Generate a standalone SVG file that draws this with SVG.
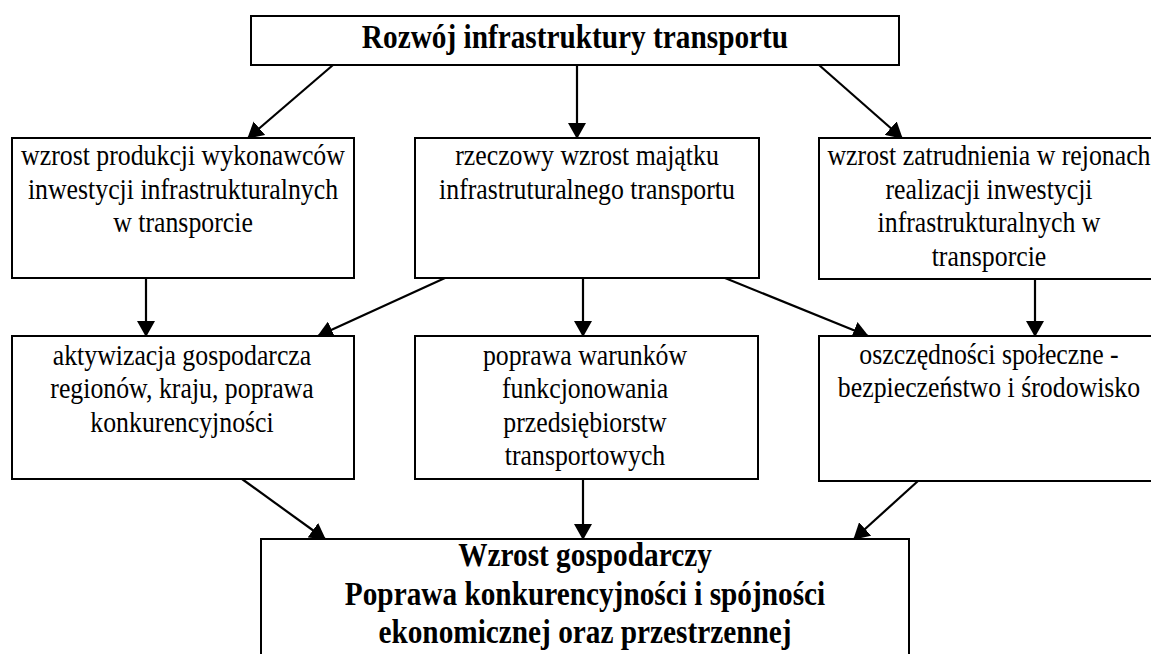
<svg xmlns="http://www.w3.org/2000/svg" width="1151" height="654" viewBox="0 0 1151 654">
<defs>
<style>
.box{fill:#fff;stroke:#000;stroke-width:2}
.t{font-family:"Liberation Serif","Times New Roman",serif;font-size:25.8px;fill:#000;text-anchor:middle}
.b{font-family:"Liberation Serif","Times New Roman",serif;font-size:29.3px;font-weight:bold;fill:#000;text-anchor:middle}
.c{stroke:#000;stroke-width:2.2;fill:none;marker-end:url(#ah)}
</style>
<marker id="ah" viewBox="0 0 16 18" refX="15" refY="9" markerWidth="16" markerHeight="18" markerUnits="userSpaceOnUse" orient="auto">
<path d="M0,0 L16,9 L0,18 z" fill="#000"/>
</marker>
</defs>
<rect width="1151" height="654" fill="#fff"/>
<g id="connectors">
<line class="c" x1="333" y1="65" x2="248" y2="138"/>
<line class="c" x1="577" y1="65" x2="577" y2="138"/>
<line class="c" x1="819" y1="65" x2="902" y2="138"/>
<line class="c" x1="146" y1="278" x2="146" y2="336"/>
<line class="c" x1="445" y1="278" x2="318" y2="336"/>
<line class="c" x1="583" y1="278" x2="583" y2="336"/>
<line class="c" x1="725" y1="278" x2="868" y2="336"/>
<line class="c" x1="1035" y1="279" x2="1035" y2="336"/>
<line class="c" x1="242" y1="479" x2="325" y2="539"/>
<line class="c" x1="583" y1="479" x2="583" y2="539"/>
<line class="c" x1="918" y1="481" x2="854" y2="539"/>
</g>
<g id="top">
<rect class="box" x="251" y="16" width="648" height="49"/>
<text class="b" transform="matrix(1,0,0,1.15,575,48)" x="0" y="0">Rozwój infrastruktury transportu</text>
</g>
<g id="nodeA">
<rect class="box" x="12" y="138" width="342" height="140"/>
<text class="t" transform="matrix(1,0,0,1.15,183,165)"><tspan x="0" y="0">wzrost produkcji wykonawców</tspan><tspan x="0" y="29.3">inwestycji infrastrukturalnych</tspan><tspan x="0" y="58.6">w transporcie</tspan></text>
</g>
<g id="nodeB">
<rect class="box" x="415" y="138" width="344" height="140"/>
<text class="t" transform="matrix(1,0,0,1.15,587,165)"><tspan x="0" y="0">rzeczowy wzrost majątku</tspan><tspan x="0" y="29.3">infrastruturalnego transportu</tspan></text>
</g>
<g id="nodeC">
<rect class="box" x="819" y="138" width="345" height="141"/>
<text class="t" transform="matrix(1,0,0,1.15,989,165)"><tspan x="0" y="0">wzrost zatrudnienia w rejonach</tspan><tspan x="0" y="29.3">realizacji inwestycji</tspan><tspan x="0" y="58.6">infrastrukturalnych w</tspan><tspan x="0" y="87.9">transporcie</tspan></text>
</g>
<g id="nodeD">
<rect class="box" x="12" y="336" width="342" height="143"/>
<text class="t" transform="matrix(1,0,0,1.15,182,365)"><tspan x="0" y="0">aktywizacja gospodarcza</tspan><tspan x="0" y="29">regionów, kraju, poprawa</tspan><tspan x="0" y="58">konkurencyjności</tspan></text>
</g>
<g id="nodeE">
<rect class="box" x="415" y="336" width="343" height="143"/>
<text class="t" transform="matrix(1,0,0,1.15,585,365)"><tspan x="0" y="0">poprawa warunków</tspan><tspan x="0" y="29">funkcjonowania</tspan><tspan x="0" y="58">przedsiębiorstw</tspan><tspan x="0" y="87">transportowych</tspan></text>
</g>
<g id="nodeF">
<rect class="box" x="819" y="336" width="345" height="145"/>
<text class="t" transform="matrix(1,0,0,1.15,989,364)"><tspan x="0" y="0">oszczędności społeczne -</tspan><tspan x="0" y="29">bezpieczeństwo i środowisko</tspan></text>
</g>
<g id="bottom">
<rect class="box" x="261" y="539" width="648" height="125"/>
<text class="b" transform="matrix(1,0,0,1.15,585,566)"><tspan x="0" y="0">Wzrost gospodarczy</tspan><tspan x="0" y="33.5">Poprawa konkurencyjności i spójności</tspan><tspan x="0" y="67">ekonomicznej oraz przestrzennej</tspan></text>
</g>
</svg>
